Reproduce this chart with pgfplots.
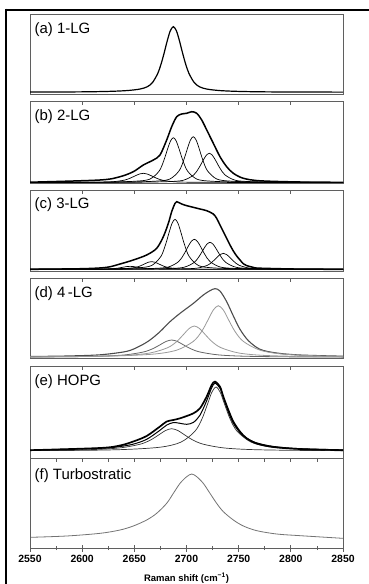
\documentclass[border=0pt]{standalone}
\usepackage{fontspec}
\setmainfont{Liberation Sans}
\usepackage{pgfplots}
\pgfplotsset{compat=1.18}
\definecolor{frame}{HTML}{5F5F5F}
\newcommand\labfont{\fontsize{15}{18}\selectfont}
\pgfplotsset{
 panel/.style={scale only axis, width=313bp, anchor=north west,
   xmin=2550, xmax=2850, ymin=0, ytick=\empty, xticklabels={},
   axis line style={draw=frame, line width=0.8bp},
   tick style={draw=frame, line width=0.7bp}},
 toptick/.style={xtick={2600,2650,2700,2750,2800}, xtick pos=right,
   tick align=inside, major tick length=4bp},
 comp/.style={smooth, black, line width=0.7bp, mark=none},
 env/.style={smooth, black, line width=1.5bp, mark=none},
}
\tikzset{lab/.style={anchor=north west, inner sep=0pt, xshift=4.5bp, yshift=-8.5bp, font=\labfont}}
\begin{document}
\begin{tikzpicture}
\path[use as bounding box] (0,0) rectangle (369bp,-584bp);
\draw[line width=2bp] (5bp,-9.7bp) -- (369bp,-9.7bp);
\draw[line width=2bp] (6bp,-8.7bp) -- (6bp,-584bp);

% (a)
\begin{axis}[panel, at={(30bp,-14bp)}, height=80bp, ymax=80, xtick=\empty]
\addplot[smooth, black, line width=1.2bp] coordinates {(2487.4,1.79)(2587.4,2.06)(2622.4,2.53)(2642.4,3.39)(2655.4,4.94)(2662.4,7.26)(2667.4,11.44)(2672.4,20.46)(2675.4,29.19)(2678.4,40.32)(2681.4,52.59)(2684.4,63.04)(2687.4,67.3)(2690.4,63.04)(2693.4,52.59)(2696.4,40.32)(2699.4,29.19)(2702.4,20.46)(2707.4,11.44)(2712.4,7.26)(2719.4,4.94)(2732.4,3.39)(2752.4,2.53)(2787.4,2.06)(2887.4,1.79)};
\node[lab] at (rel axis cs:0,1) {(a) 1-LG};
\end{axis}

% (b)
\begin{axis}[panel, toptick, at={(30bp,-101bp)}, height=82bp, ymax=82]
\addplot[env] coordinates {(2550,0.8)(2617.1,3)(2636.3,6.3)(2649.0,11.3)(2658.6,18)(2668.2,23)(2674.6,28)(2681.0,43)(2685.8,56.3)(2690.6,66.3)(2695.4,69)(2700.2,69.7)(2705.0,71.3)(2709.8,69.7)(2714.6,63)(2719.4,53)(2725.7,39.7)(2732.1,26.3)(2738.5,16.3)(2744.9,9.7)(2754.5,4.7)(2770.5,2.2)(2808.8,1.0)(2850,0.7)};
\addplot[comp] coordinates {(2358.6,0.51)(2514.6,0.53)(2574.6,0.59)(2610.6,0.77)(2628.6,1.2)(2640.6,2.88)(2646.6,5.1)(2651.4,7.46)(2655.0,9.04)(2658.6,9.7)(2662.2,9.04)(2665.8,7.46)(2670.6,5.1)(2676.6,2.88)(2688.6,1.2)(2706.6,0.77)(2742.6,0.59)(2802.6,0.53)(2958.6,0.51)};
\addplot[comp] coordinates {(2462.4,0.54)(2579.4,0.66)(2624.4,0.95)(2651.4,1.82)(2664.9,3.89)(2673.9,12.1)(2678.4,22.9)(2682.0,34.41)(2684.7,42.07)(2687.4,45.3)(2690.1,42.07)(2692.8,34.41)(2696.4,22.9)(2700.9,12.1)(2709.9,3.89)(2723.4,1.82)(2750.4,0.95)(2795.4,0.66)(2912.4,0.54)};
\addplot[comp] coordinates {(2481.5,0.54)(2598.5,0.66)(2643.5,0.96)(2670.5,1.85)(2684.0,3.96)(2693.0,12.36)(2697.5,23.4)(2701.1,35.17)(2703.8,43.0)(2706.5,46.3)(2709.2,43.0)(2711.9,35.17)(2715.5,23.4)(2720.0,12.36)(2729.0,3.96)(2742.5,1.85)(2769.5,0.96)(2814.5,0.66)(2931.5,0.54)};
\addplot[comp] coordinates {(2471.9,0.52)(2601.9,0.6)(2651.9,0.79)(2681.9,1.36)(2696.9,2.71)(2706.9,8.06)(2711.9,15.1)(2715.9,22.6)(2718.9,27.6)(2721.9,29.7)(2724.9,27.6)(2727.9,22.6)(2731.9,15.1)(2736.9,8.06)(2746.9,2.71)(2761.9,1.36)(2791.9,0.79)(2841.9,0.6)(2971.9,0.52)};
\node[lab] at (rel axis cs:0,1) {(b) 2-LG};
\end{axis}

% (c)
\begin{axis}[panel, toptick, at={(30bp,-190bp)}, height=81bp, ymax=81]
\addplot[env] coordinates {(2550,1.67)(2601.1,2.33)(2623.5,3.67)(2636.3,7)(2649.0,11)(2661.8,16)(2671.4,22.67)(2677.8,34.33)(2682.6,47.67)(2685.8,59.33)(2689.0,67.67)(2690.6,69.33)(2695.4,67)(2700.2,65.33)(2706.6,63.67)(2712.9,62)(2719.3,60.33)(2725.7,57)(2728.9,52.67)(2732.1,46)(2735.3,39.33)(2738.5,32.67)(2741.7,26)(2744.9,20)(2748.1,15)(2751.3,11)(2754.5,7.2)(2757.7,5.4)(2764.1,3.6)(2770.5,2.8)(2808.8,1.9)(2850,1.7)};
\addplot[comp] coordinates {(2396,1.67)(2526,1.68)(2576,1.7)(2606,1.76)(2621,1.9)(2631,2.45)(2636,3.17)(2640,3.94)(2643,4.45)(2646,4.67)(2649,4.45)(2652,3.94)(2656,3.17)(2661,2.45)(2671,1.9)(2686,1.76)(2716,1.7)(2766,1.68)(2896,1.67)};
\addplot[comp] coordinates {(2416.6,1.68)(2546.6,1.7)(2596.6,1.75)(2626.6,1.9)(2641.6,2.25)(2651.6,3.66)(2656.6,5.52)(2660.6,7.5)(2663.6,8.82)(2666.6,9.37)(2669.6,8.82)(2672.6,7.5)(2676.6,5.52)(2681.6,3.66)(2691.6,2.25)(2706.6,1.9)(2736.6,1.75)(2786.6,1.7)(2916.6,1.68)};
\addplot[comp] coordinates {(2464.0,1.71)(2581.0,1.85)(2626.0,2.17)(2653.0,3.14)(2666.5,5.45)(2675.5,14.62)(2680.0,26.67)(2683.6,39.52)(2686.3,48.07)(2689.0,51.67)(2691.7,48.07)(2694.4,39.52)(2698.0,26.67)(2702.5,14.62)(2711.5,5.45)(2725.0,3.14)(2752.0,2.17)(2797.0,1.85)(2914.0,1.71)};
\addplot[comp] coordinates {(2457.5,1.69)(2587.5,1.78)(2637.5,1.97)(2667.5,2.55)(2682.5,3.94)(2692.5,9.44)(2697.5,16.67)(2701.5,24.38)(2704.5,29.51)(2707.5,31.67)(2710.5,29.51)(2713.5,24.38)(2717.5,16.67)(2722.5,9.44)(2732.5,3.94)(2747.5,2.55)(2777.5,1.97)(2827.5,1.78)(2957.5,1.69)};
\addplot[comp] coordinates {(2472.5,1.69)(2602.5,1.76)(2652.5,1.94)(2682.5,2.46)(2697.5,3.71)(2707.5,8.66)(2712.5,15.17)(2716.5,22.11)(2719.5,26.73)(2722.5,28.67)(2725.5,26.73)(2728.5,22.11)(2732.5,15.17)(2737.5,8.66)(2747.5,3.71)(2762.5,2.46)(2792.5,1.94)(2842.5,1.76)(2972.5,1.69)};
\addplot[comp] coordinates {(2485.3,1.68)(2615.3,1.73)(2665.3,1.83)(2695.3,2.14)(2710.3,2.88)(2720.3,5.81)(2725.3,9.67)(2729.3,13.78)(2732.3,16.52)(2735.3,17.67)(2738.3,16.52)(2741.3,13.78)(2745.3,9.67)(2750.3,5.81)(2760.3,2.88)(2775.3,2.14)(2805.3,1.83)(2855.3,1.73)(2985.3,1.68)};
\node[lab, yshift=1.5bp] at (rel axis cs:0,1) {(c) 3-LG};
\end{axis}

% (d)
\begin{axis}[panel, toptick, at={(30bp,-278bp)}, height=80bp, ymax=80]
\addplot[smooth, color=black!70, line width=1.1bp] coordinates {(2550,1.5)(2585.1,2)(2617.1,3.2)(2642.7,6.67)(2655.4,12)(2665.0,18)(2674.6,26.33)(2684.2,36.33)(2693.8,44.67)(2706.6,54.67)(2716.1,63)(2722.5,67.33)(2727.3,69.33)(2732.1,67)(2738.5,56.33)(2744.9,42)(2751.3,28.67)(2759.3,17.33)(2770.5,8.67)(2786.4,5)(2808.8,3)(2850,1.8)};
\addplot[smooth, color=black!60, line width=0.8bp] coordinates {(2235.8,0.73)(2469.8,0.82)(2559.8,1.05)(2613.8,1.72)(2640.8,3.09)(2658.8,6.03)(2667.8,9.35)(2675.0,13.42)(2680.4,16.56)(2685.8,18.0)(2691.2,16.56)(2696.6,13.42)(2703.8,9.35)(2712.8,6.03)(2730.8,3.09)(2757.8,1.72)(2811.8,1.05)(2901.8,0.82)(3135.8,0.73)};
\addplot[smooth, color=black!40, line width=0.8bp] coordinates {(2282.5,0.75)(2503.5,0.92)(2588.5,1.33)(2639.5,2.54)(2665.0,5.02)(2682.0,10.34)(2690.5,16.35)(2697.3,23.7)(2702.4,29.4)(2707.5,32.0)(2712.6,29.4)(2717.7,23.7)(2724.5,16.35)(2733.0,10.34)(2750.0,5.02)(2775.5,2.54)(2826.5,1.33)(2911.5,0.92)(3132.5,0.75)};
\addplot[smooth, color=black!40, line width=0.8bp] coordinates {(2330.5,0.78)(2538.5,1.06)(2618.5,1.73)(2666.5,3.73)(2690.5,7.82)(2706.5,16.59)(2714.5,26.5)(2720.9,38.63)(2725.7,48.02)(2730.5,52.3)(2735.3,48.02)(2740.1,38.63)(2746.5,26.5)(2754.5,16.59)(2770.5,7.82)(2794.5,3.73)(2842.5,1.73)(2922.5,1.06)(3130.5,0.78)};
\node[lab] at (rel axis cs:0,1) {(d) 4\,-LG};
\end{axis}

% (e)
\begin{axis}[panel, toptick, at={(30bp,-366bp)}, height=92bp, ymax=92]
\addplot[comp, color=black!80] coordinates {(2185.8,7.04)(2445.8,7.15)(2545.8,7.45)(2605.8,8.31)(2635.8,10.08)(2655.8,13.87)(2665.8,18.15)(2673.8,23.39)(2679.8,27.45)(2685.8,29.3)(2691.8,27.45)(2697.8,23.39)(2705.8,18.15)(2715.8,13.87)(2735.8,10.08)(2765.8,8.31)(2825.8,7.45)(2925.8,7.15)(3185.8,7.04)};
\addplot[comp, color=black!80] coordinates {(2390.8,7.1)(2566.3,7.44)(2633.8,8.28)(2674.3,10.76)(2694.55,15.83)(2708.05,26.71)(2714.8,39)(2720.2,54.04)(2724.25,65.69)(2728.3,71)(2732.35,65.69)(2736.4,54.04)(2741.8,39)(2748.55,26.71)(2762.05,15.83)(2782.3,10.76)(2822.8,8.28)(2890.3,7.44)(3065.8,7.1)};
\addplot[comp, line width=1bp] coordinates {(2550,7.83)(2617.1,9.67)(2636.3,11.48)(2649.0,13.88)(2661.8,18.67)(2674.6,27.77)(2681.0,32.93)(2687.4,35.44)(2693.8,34.7)(2700.2,33.7)(2706.6,35.6)(2712.9,42.76)(2719.3,57.17)(2724.1,70.18)(2727.3,74.8)(2732.1,69.8)(2735.3,60.5)(2740.1,45.96)(2744.9,34.8)(2751.3,25.3)(2757.7,19.75)(2767.3,15.1)(2783.3,11.54)(2808.8,9.3)(2850,8.1)};
\addplot[env, line width=1.7bp] coordinates {(2550,7.8)(2617.1,10)(2636.3,12.5)(2649.0,16.5)(2661.8,22)(2674.6,31.5)(2681.0,36.5)(2687.4,38)(2693.8,39.67)(2700.2,42)(2706.6,44.67)(2712.9,49.67)(2719.3,61.33)(2724.1,73)(2727.3,76.33)(2732.1,71.33)(2735.3,61.33)(2740.1,48)(2744.9,36.33)(2751.3,26.33)(2757.7,19.67)(2767.3,14.5)(2783.3,11)(2808.8,9.0)(2850,7.8)};
\node[lab] at (rel axis cs:0,1) {(e) HOPG};
\end{axis}

% (f)
\begin{axis}[panel, at={(30bp,-458bp)}, height=90bp, ymax=90,
  xtick={2550,2600,2650,2700,2750,2800,2850},
  xticklabels={\textbf{2550},\textbf{2600},\textbf{2650},\textbf{2700},\textbf{2750},\textbf{2800},\textbf{2850}},
  minor xtick={2575,2625,2675,2725,2775,2825},
  xtick pos=left, tick align=center, major tick length=7bp, minor tick length=4bp,
  xticklabel style={font=\bfseries\fontsize{10.5}{12}\selectfont, anchor=north, inner sep=0pt, yshift=-3.5bp},
  xlabel={\textbf{Raman shift (cm\textsuperscript{−1})}},
  xlabel style={font=\bfseries\fontsize{9.5}{11}\selectfont, at={(axis description cs:0.5,0)}, anchor=center, yshift=-30.5bp}]
\addplot[smooth, color=black!55, line width=0.8bp] coordinates {(2550,10.67)(2585.1,12)(2617.1,14.67)(2636.3,18)(2649.0,22)(2661.8,28)(2671.4,34.67)(2681.0,44.67)(2687.4,54.67)(2693.8,64.67)(2700.2,71.33)(2705.0,74)(2709.8,71.33)(2716.1,64.67)(2722.5,54.67)(2728.9,44.67)(2735.3,36.33)(2744.9,28)(2754.5,22)(2767.3,17.33)(2786.4,14)(2808.8,12.33)(2850,9.67)};
\node[lab, yshift=-1.5bp] at (rel axis cs:0,1) {(f) Turbostratic};
\end{axis}
\begin{axis}[panel, at={(30bp,-458bp)}, height=90bp, ymax=90,
  xtick={2575,2600,2625,2650,2675,2700,2725,2750,2775,2800,2825},
  xtick pos=right, tick align=inside, major tick length=4bp]
\end{axis}
\end{tikzpicture}
\end{document}
